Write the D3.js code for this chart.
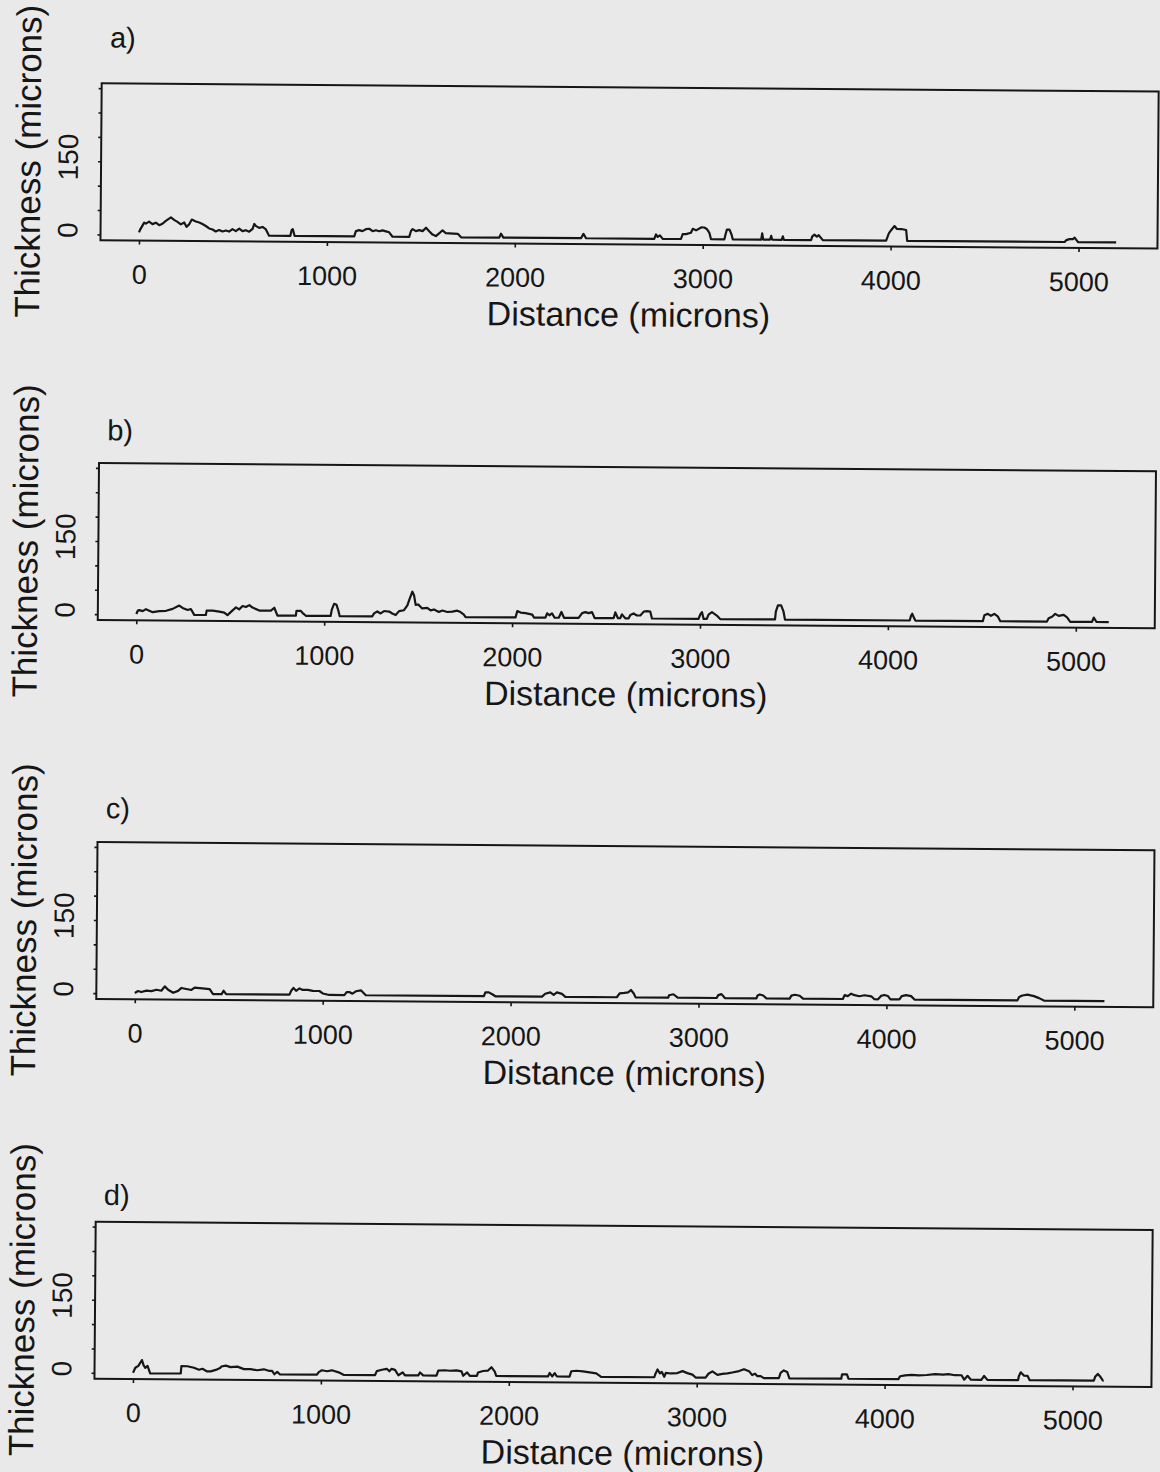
<!DOCTYPE html>
<html><head><meta charset="utf-8">
<script src="https://cdn.jsdelivr.net/npm/d3@7"></script>
<style>html,body{margin:0;padding:0;background:#e9e9e9;} svg{display:block}</style>
</head><body><svg id="chart" width="1160" height="1472"></svg>
<script>
const panelLabels = ["a)", "b)", "c)", "d)"];
const xTicks = [0, 1000, 2000, 3000, 4000, 5000];
const yTicks = [0, 50, 100, 150, 200, 250, 300];
const yTickLabels = [0, 150];
const xTitle = "Distance (microns)";
const yTitle = "Thickness (microns)";

// [distance (microns), thickness (microns)]
const profileA = [[0,5],[5,10],[27,25],[36,23],[53,27],[71,22],[89,25],[107,20],[124,23],[142,29],[169,36],[186,31],[204,27],[222,22],[240,26],[252,17],[266,22],[280,32],[302,28],[320,26],[337,23],[355,19],[373,14],[391,12],[408,8],[426,11],[444,8],[462,10],[479,8],[497,13],[515,9],[533,14],[550,9],[568,11],[586,8],[604,14],[613,24],[621,20],[639,16],[657,18],[675,13],[692,0],
[805,0],[812,12],[818,14],[828,0],
[1145,0],[1154,11],[1171,13],[1189,11],[1207,15],[1225,16],[1243,11],[1260,13],[1278,11],[1296,13],[1314,11],[1331,9],[1349,0],
[1438,0],[1447,12],[1456,16],[1473,12],[1491,14],[1509,12],[1527,19],[1544,12],[1562,5],[1580,2],[1598,8],[1615,14],[1633,8],[1651,8],[1696,7],[1714,0],
[1917,0],[1926,8],[1939,0],
[2352,0],[2365,9],[2379,0],
[2742,0],[2751,9],[2760,4],[2772,7],[2787,0],
[2884,0],[2893,10],[2911,10],[2937,13],[2946,21],[2964,18],[2991,24],[3008,24],[3021,21],[3035,13],[3044,0],
[3115,0],[3121,10],[3128,20],[3142,20],[3153,10],[3160,0],
[3311,0],[3316,13],[3322,0],
[3358,0],[3364,8],[3370,0],
[3420,0],[3426,7],[3432,0],
[3577,0],[3582,7],[3594,11],[3607,7],[3617,10],[3639,0],
[3976,0],[3990,15],[4003,22],[4020,30],[4033,24],[4056,24],[4082,22],[4088,0],
[4926,0],[4935,4],[4952,6],[4970,6],[4979,9],[4997,0],
[5200,0]];

const profileB = [[0,1],[8,8],[16,9],[34,7],[51,11],[69,8],[87,5],[122,7],[158,8],[193,12],[228,19],[246,14],[273,10],[290,12],[308,0],
[370,0],[374,9],[406,9],[441,7],[468,5],[485,0],[512,10],[530,16],[547,12],[565,19],[583,17],[601,21],[618,16],[654,10],[689,10],[716,10],[734,16],[751,0],
[849,0],[852,10],[875,10],[884,6],[902,0],
[1034,0],[1040,13],[1052,25],[1065,23],[1075,11],[1082,0],
[1256,0],[1265,6],[1282,10],[1300,6],[1318,11],[1345,10],[1362,6],[1380,3],[1398,11],[1424,13],[1442,23],[1454,37],[1468,51],[1477,44],[1486,24],[1500,25],[1521,17],[1548,18],[1566,13],[1584,15],[1610,10],[1628,13],[1655,10],[1681,11],[1708,13],[1725,10],[1743,5],[1752,0],
[2018,0],[2027,13],[2045,10],[2071,9],[2107,6],[2116,0],
[2177,0],[2186,9],[2198,5],[2212,9],[2226,0],
[2248,0],[2262,12],[2276,0],
[2354,0],[2372,10],[2389,12],[2407,10],[2425,12],[2439,0],
[2540,0],[2549,12],[2563,0],
[2575,0],[2584,8],[2602,0],
[2620,0],[2629,7],[2646,10],[2664,6],[2682,6],[2700,14],[2717,15],[2735,14],[2744,0],
[2992,0],[3001,9],[3010,14],[3019,0],
[3036,0],[3045,9],[3063,14],[3089,7],[3107,0],
[3399,0],[3403,16],[3414,29],[3431,29],[3444,16],[3452,0],
[4116,0],[4122,9],[4129,14],[4139,5],[4146,0],
[4505,0],[4513,12],[4531,15],[4548,11],[4566,15],[4584,10],[4598,0],
[4846,0],[4855,7],[4873,10],[4890,16],[4908,12],[4935,14],[4953,9],[4970,0],
[5086,0],[5095,9],[5110,0],
[5175,0]];

const profileC = [[0,1],[17,5],[34,3],[62,6],[88,5],[115,8],[141,6],[159,15],[177,8],[204,2],[230,6],[248,12],[274,10],[301,8],[318,13],[345,12],[372,11],[398,10],[416,0],[462,0],[472,7],[486,0],
[823,0],[832,8],[844,14],[858,8],[876,13],[894,10],[920,10],[947,8],[982,8],[1000,3],[1035,0],[1115,0],[1127,6],[1144,6],[1158,3],[1176,8],[1203,10],[1229,0],
[1857,0],[1866,8],[1884,8],[1902,4],[1919,0],
[2167,0],[2184,6],[2211,9],[2229,4],[2246,9],[2273,6],[2291,0],
[2565,0],[2580,8],[2605,9],[2625,10],[2640,15],[2655,8],[2665,0],
[2839,0],[2843,5],[2866,7],[2889,0],
[3096,0],[3105,6],[3122,8],[3140,0],
[3308,0],[3314,6],[3326,8],[3344,6],[3361,0],
[3485,0],[3494,6],[3512,8],[3538,6],[3556,0],
[3768,0],[3777,8],[3794,6],[3812,11],[3830,8],[3856,6],[3883,8],[3919,6],[3936,0],[3955,0],[3971,7],[3989,9],[4007,7],[4021,0],[4069,0],[4081,7],[4104,9],[4131,7],[4149,0],
[4697,0],[4706,7],[4723,10],[4750,12],[4785,9],[4812,5],[4838,0],
[5160,0]];

const profileD = [[0,1],[12,11],[28,15],[47,27],[56,16],[65,11],[77,15],[91,0],
[254,0],[257,15],[289,15],[324,12],[351,8],[369,10],[392,5],[413,5],[440,8],[463,12],[470,15],[493,17],[519,14],[555,15],[590,10],[625,10],[661,8],[696,10],[722,7],[740,7],[752,0],[767,5],[781,0],
[979,0],[988,5],[1005,9],[1032,7],[1058,9],[1094,5],[1120,0],
[1288,0],[1297,8],[1324,11],[1350,13],[1364,8],[1376,13],[1394,11],[1412,0],[1435,6],[1447,0],
[1518,0],[1527,6],[1544,0],
[1615,0],[1624,10],[1659,11],[1686,10],[1721,11],[1748,9],[1757,0],[1778,7],[1792,0],
[1830,0],[1836,7],[1863,10],[1889,11],[1907,18],[1925,9],[1933,0],
[2208,0],[2217,7],[2231,0],[2244,7],[2256,0],
[2323,0],[2332,11],[2359,12],[2394,11],[2430,9],[2465,7],[2491,0],
[2774,0],[2779,6],[2791,16],[2804,8],[2814,11],[2827,1],[2835,9],[2862,8],[2897,9],[2924,13],[2950,9],[2977,6],[2994,0],
[3047,0],[3062,8],[3083,13],[3110,6],[3136,8],[3163,9],[3189,11],[3225,14],[3251,18],[3278,14],[3295,6],[3310,9],[3322,4],[3340,4],[3357,0],
[3437,0],[3446,11],[3463,16],[3481,13],[3493,0],
[3769,0],[3773,9],[3799,9],[3808,0],
[4073,0],[4082,6],[4109,8],[4144,9],[4180,8],[4224,9],[4268,11],[4312,10],[4339,11],[4374,9],[4409,9],[4423,0],[4441,8],[4459,0],
[4515,0],[4529,8],[4547,0],
[4710,0],[4714,8],[4724,16],[4742,9],[4760,9],[4772,0],
[5113,0],[5120,8],[5134,14],[5148,8],[5162,0],[5166,0]];

const profiles = [profileA, profileB, profileC, profileD];

// layout (scan position of each panel box)
const layout = [
  {x: 101.7, y: 83.3,  lab: -46},
  {x: 99.0,  y: 463.0, lab: -33},
  {x: 97.5,  y: 842.0, lab: -34},
  {x: 95.7,  y: 1221.7, lab: -27}
];
const W = 1057, H = 157, ROT = 0.45;
const FONT = "'Liberation Sans', Arial, Helvetica, sans-serif";
const INK = "#161616";

const x = d3.scaleLinear().domain([-205, 5420]).range([0, W]);
const y = d3.scaleLinear().domain([-12, 310]).range([H, 0]);

const svg = d3.select("#chart");
svg.append("rect").attr("width", 1160).attr("height", 1472).attr("fill", "#e9e9e9");

const line = d3.line().x(d => x(d[0])).y(d => y(d[1]));

profiles.forEach((prof, i) => {
  const L = layout[i];
  const g = svg.append("g").attr("transform", `translate(${L.x},${L.y}) rotate(${ROT})`);

  // x axis
  const xa = g.append("g")
    .attr("transform", `translate(0,${H})`)
    .call(d3.axisBottom(x).tickValues(xTicks).tickSize(4).tickPadding(20).tickFormat(d3.format("d")));
  xa.select(".domain").remove();
  xa.attr("font-size", 27).attr("font-family", FONT).style("color", INK);
  xa.selectAll("line").attr("stroke-width", 1.6);

  // y axis (ticks only; labels drawn rotated)
  const ya = g.append("g")
    .call(d3.axisLeft(y).tickValues(yTicks).tickSize(3).tickFormat(""));
  ya.select(".domain").remove();
  ya.style("color", INK);
  ya.selectAll("line").attr("stroke-width", 1.6);

  g.selectAll("text.ylab").data(yTickLabels).enter().append("text")
    .attr("class", "ylab")
    .attr("transform", d => `translate(-33,${y(d) - 4}) rotate(-90)`)
    .attr("text-anchor", "middle").attr("dy", "0.35em")
    .attr("font-size", 28).attr("font-family", FONT).attr("fill", INK)
    .text(d => d);

  // box
  g.append("rect").attr("width", W).attr("height", H)
    .attr("fill", "none").attr("stroke", INK).attr("stroke-width", 2);

  // data line
  g.append("path").datum(prof).attr("d", line)
    .attr("fill", "none").attr("stroke", INK).attr("stroke-width", 2.2)
    .attr("stroke-linejoin", "round");

  // titles
  g.append("text").attr("x", W / 2).attr("y", H + 70).attr("dy", "0.35em")
    .attr("text-anchor", "middle").attr("font-size", 34).attr("font-family", FONT).attr("fill", INK)
    .text(xTitle);
  g.append("text").attr("transform", `translate(-73,${H / 2}) rotate(-90)`)
    .attr("dy", "0.35em").attr("text-anchor", "middle")
    .attr("font-size", 35).attr("font-family", FONT).attr("fill", INK)
    .text(yTitle);
  g.append("text").attr("x", 8).attr("y", L.lab).attr("dy", "0.35em")
    .attr("font-size", 29).attr("font-family", FONT).attr("fill", INK)
    .text(panelLabels[i]);
});
</script></body></html>
